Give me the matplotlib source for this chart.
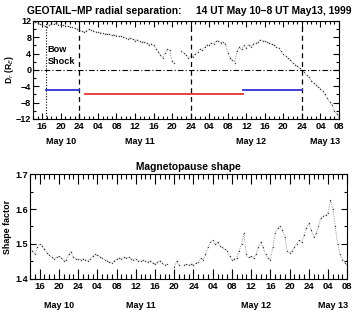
import numpy as np
import matplotlib
matplotlib.use("Agg")
import matplotlib.pyplot as plt
from matplotlib.ticker import MultipleLocator, FixedLocator
import matplotlib.transforms as mtransforms

plt.rcParams['font.family'] = ['Liberation Sans', 'DejaVu Sans']

# hours since 14 UT May 10, 1999 (sampled every half hour)
hours = np.arange(0, 66.01, 0.5)
nan = np.nan

dr = [11.6, 11.8, 11.5, 11.2, 11.0, 10.8, 10.6, 11.0, 11.3, 11.2, 11.4, 11.1,
      11.0, 10.9, 10.8, 10.7, 10.6, 10.4, 10.2, 10.0, 9.8, 9.5, 9.3, 9.6,
      10.0, 9.8, 9.6, 9.4, 9.3, 9.1, 9.0, 8.8, 8.9, 8.7, 8.5, 8.6,
      8.4, 8.2, 8.3, 8.0, 7.8, 7.6, 7.9, 7.5, 7.2, 7.4, 7.0, 6.8,
      6.9, 6.5, 6.2, 6.4, 6.0, 5.2, 4.5, 3.6, 3.0, 4.2, 5.0, 4.8,
      2.2, 1.6, nan, nan, 4.6, 4.2, 3.6, 3.0, 3.4, 3.2, 4.0, 4.4,
      5.2, 4.8, 5.6, 6.2, 6.0, 6.6, 6.4, 7.0, 7.2, 6.6, 6.8, 6.4,
      4.2, 3.0, 2.4, 1.8, 4.6, 5.6, 5.0, 6.0, 5.4, 6.2, 5.6, 6.4,
      6.6, 6.8, 7.4, 7.2, 7.0, 6.8, 6.5, 6.3, 6.0, 5.6, 5.3, 4.6,
      3.8, 3.4, 2.8, 2.4, 1.8, 1.3, 0.9, 0.5, 0.0, -0.6, -1.2, -1.8,
      -2.6, -3.2, -3.8, -4.2, -4.6, -5.2, -6.0, -7.0, -7.8, -8.6, -10.0, -10.8,
      -11.5]

shape = [1.49, 1.48, 1.47, 1.49, 1.50, 1.495, 1.485, 1.475, 1.468, 1.462, 1.458, 1.462,
         1.465, 1.46, 1.452, 1.455, 1.47, 1.478, 1.462, 1.458, 1.456, 1.455, 1.458, 1.455,
         1.452, 1.458, 1.465, 1.47, 1.468, 1.464, 1.46, 1.455, 1.452, 1.448, 1.445, 1.452,
         1.456, 1.46, 1.458, 1.462, 1.46, 1.462, 1.458, 1.455, 1.458, 1.452, 1.45, 1.455,
         1.45, 1.448, 1.452, 1.446, 1.442, 1.448, 1.452, 1.445, 1.44, 1.442, nan, nan,
         1.435, 1.45, 1.44, nan, 1.44, 1.442, 1.44, 1.443, 1.44, 1.445, 1.448, 1.46,
         1.455, 1.47, 1.49, 1.505, 1.51, 1.50, 1.505, 1.495, 1.49, 1.485, 1.48, 1.465,
         1.455, 1.458, 1.46, 1.48, 1.50, 1.53, 1.47, 1.462, 1.465, 1.46, 1.47, 1.49,
         1.505, 1.49, 1.47, 1.46, 1.455, 1.49, 1.53, 1.545, 1.55, 1.54, 1.52, 1.48,
         1.475, 1.48, 1.49, 1.50, 1.51, 1.505, 1.525, 1.545, 1.56, 1.54, 1.52, 1.53,
         1.55, 1.575, 1.58, 1.582, 1.59, 1.625, 1.60, 1.55, 1.50, 1.47, 1.455, 1.445,
         1.44]

tick_hours = [2, 6, 10, 14, 18, 22, 26, 30, 34, 38, 42, 46, 50, 54, 58, 62, 66]
tick_labels = ['16', '20', '24', '04', '08', '12', '16', '20', '24', '04', '08',
               '12', '16', '20', '24', '04', '08']
date_hours = [6, 23, 47, 63]
date_labels = ['May 10', 'May 11', 'May 12', 'May 13']

day_bounds = [10, 34, 58]          # 24 UT May 10, 11, 12
bow_shock = 2.8
# model segments: (start hour, end hour, D_r level, colour)
seg_start = [2.8, 11.2, 45.3]
seg_end = [10.0, 45.3, 58.0]
seg_level = [-5, -6, -5]
seg_color = ['#3030d0', '#e03030', '#3030d0']

fig = plt.figure(figsize=(3.58, 3.17), dpi=100)
ax1 = fig.add_axes([0.092, 0.625, 0.855, 0.309])
ax2 = fig.add_axes([0.084, 0.120, 0.886, 0.331])

FS = 6.8

def style_x(ax, major_len, minor_len, date_y, lab_pad):
    ax.set_xlim(0, 66)
    ax.xaxis.set_major_locator(FixedLocator(tick_hours))
    ax.set_xticklabels(tick_labels, fontweight='bold')
    ax.xaxis.set_minor_locator(MultipleLocator(1))
    ax.tick_params(axis='x', which='major', direction='in', length=major_len, width=0.8,
                   top=True, labelsize=FS, pad=lab_pad)
    ax.tick_params(axis='x', which='minor', direction='in', length=minor_len, width=0.8, top=True)
    trans = mtransforms.blended_transform_factory(ax.transData, ax.transAxes)
    for h, l in zip(date_hours, date_labels):
        ax.text(h, date_y, l, transform=trans, ha='center', va='center',
                fontsize=FS - 0.3, fontweight='bold')
    for s in ax.spines.values():
        s.set_linewidth(0.8)
    for t in ax.get_yticklabels():
        t.set_fontweight('bold')

# top panel
ax1.plot(hours, dr, linestyle=(0, (0.6, 1.2)), lw=0.7, color='0.45')
ax1.plot(hours, dr, linestyle='none', marker='.', ms=2.0, color='0.25', mew=0)
ax1.set_ylim(-12, 12)
ax1.yaxis.set_major_locator(MultipleLocator(4))
ax1.yaxis.set_minor_locator(MultipleLocator(2))
ax1.tick_params(axis='y', which='major', direction='in', length=4, width=0.8, right=True,
                labelsize=FS - 0.3, pad=1.2)
ax1.tick_params(axis='y', which='minor', direction='in', length=2.5, width=0.8, right=True)
style_x(ax1, 4.5, 2.5, -0.235, 2.5)
ax1.axhline(0, color='k', lw=0.8, ls=(0, (5, 2, 1, 2)))
for d in day_bounds:
    ax1.axvline(d, color='k', lw=0.9, ls=(0, (4, 3)))
ax1.axvline(bow_shock, color='k', lw=0.8, ls=(0, (1, 1.5)))
for a, b, lv, c in zip(seg_start, seg_end, seg_level, seg_color):
    ax1.plot([a, b], [lv, lv], color=c, lw=1.3)
ax1.text(3.2, 6.0, 'Bow\nShock', fontsize=FS - 0.2, ha='left', va='top', linespacing=1.3,
         fontweight='bold')
ax1.set_ylabel(r'D$_r$ (R$_E$)', fontsize=FS - 0.6, fontweight='bold')
ax1.yaxis.set_label_coords(-0.056, 0.5)
fig.text(0.528, 0.966, 'GEOTAIL\u2013MP radial separation:     14 UT May 10\u20138 UT May13, 1999',
         ha='center', va='center', fontsize=7.4, fontweight='bold')

# bottom panel
ax2.plot(hours, shape, linestyle=(0, (0.6, 1.2)), lw=0.7, color='0.45')
ax2.plot(hours, shape, linestyle='none', marker='.', ms=2.0, color='0.25', mew=0)
ax2.set_ylim(1.4, 1.7)
ax2.yaxis.set_major_locator(MultipleLocator(0.1))
ax2.yaxis.set_minor_locator(MultipleLocator(0.05))
ax2.tick_params(axis='y', which='major', direction='in', length=4, width=0.8, right=True,
                labelsize=FS - 0.3, pad=1.5)
ax2.tick_params(axis='y', which='minor', direction='in', length=2.5, width=0.8, right=True)
style_x(ax2, 7.5, 3.5, -0.255, 2.5)
ax2.set_ylabel('Shape factor', fontsize=FS - 0.4, fontweight='bold')
ax2.yaxis.set_label_coords(-0.057, 0.5)
ax2.set_title('Magnetopause shape', fontsize=7.4, pad=3, fontweight='bold')

fig.savefig('out.png', dpi=100)
